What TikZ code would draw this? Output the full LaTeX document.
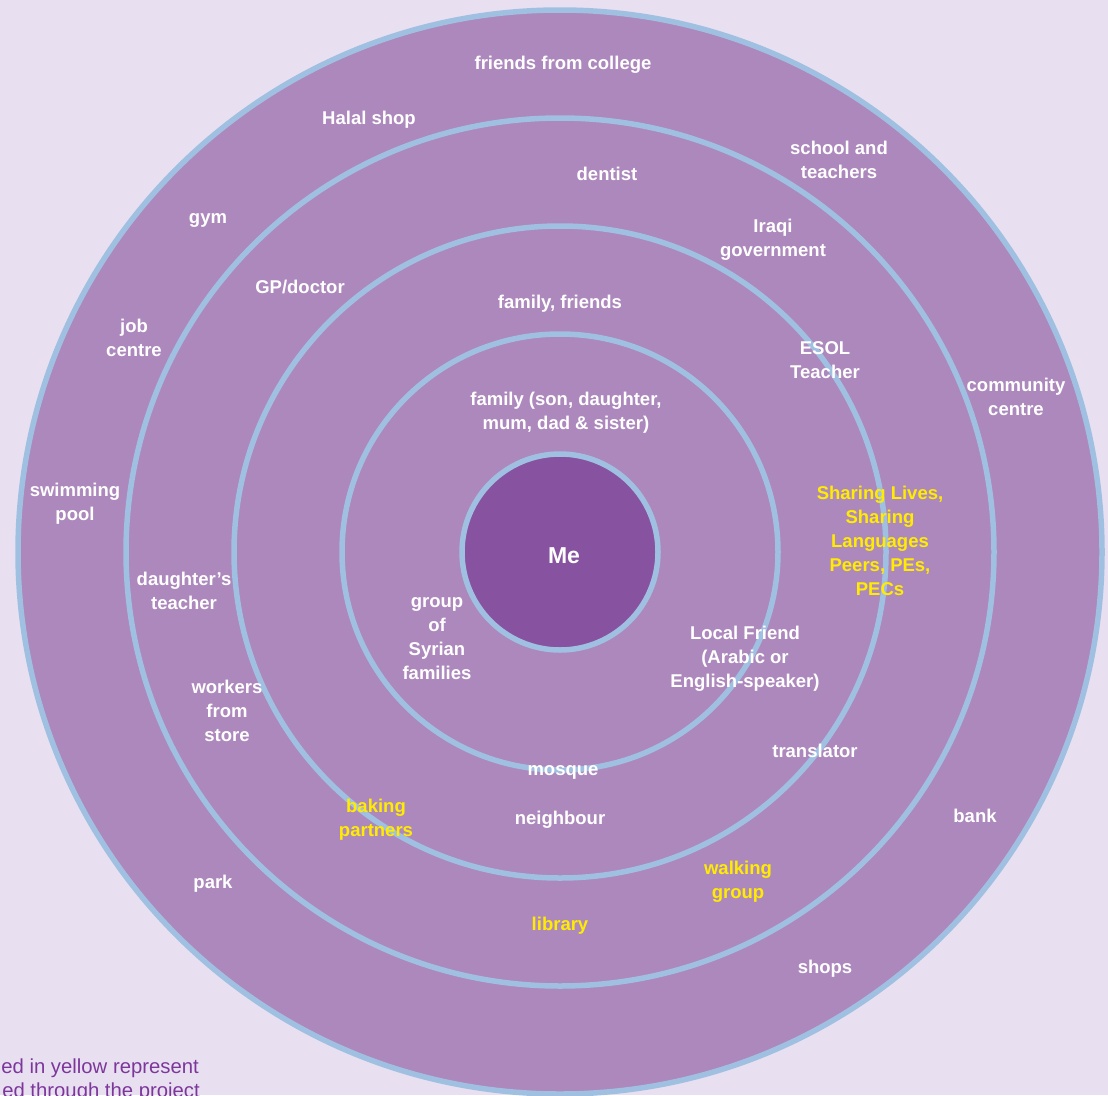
\documentclass[tikz,border=0pt]{standalone}
\usepackage{fontspec}
\setmainfont{Liberation Sans}
\definecolor{bgc}{RGB}{232,224,240}
\definecolor{ringfill}{RGB}{173,136,189}
\definecolor{mefill}{RGB}{135,82,160}
\definecolor{ringline}{RGB}{160,192,226}
\definecolor{hl}{RGB}{255,236,0}
\definecolor{legendc}{RGB}{125,55,155}
\tikzset{
  ring/.style={draw=ringline, line width=5.5pt, fill=ringfill},
  lbl/.style={text=white, font=\fontsize{18.5}{24}\selectfont\bfseries, align=center, inner sep=0pt, yshift=-2.5pt},
  ylbl/.style={lbl, text=hl},
  legend/.style={text=legendc, font=\fontsize{20.3}{24}\selectfont, align=right, inner sep=0pt, anchor=east}
}
\begin{document}
\begin{tikzpicture}[x=1pt,y=-1pt]
\useasboundingbox (0,0) rectangle (1108,1095);
\clip (0,0) rectangle (1108,1095);
\fill[bgc] (0,0) rectangle (1108,1095);
\coordinate (c) at (560,552);
\draw[ring] (c) circle[radius=542];
\draw[ring] (c) circle[radius=434];
\draw[ring] (c) circle[radius=326];
\draw[ring] (c) circle[radius=218];
\draw[ring, fill=mefill] (c) circle[radius=98];
\node[lbl, font=\fontsize{23}{28}\selectfont\bfseries] (me) at (564,553) {Me};
% outer ring
\node[lbl] (college) at (563,62) {friends from college};
\node[lbl] (halal) at (369,117) {Halal shop};
\node[lbl] (school) at (839,157) {school and\\teachers};
\node[lbl] (gym) at (208,218) {gym};
\node[lbl] (job) at (134,335) {job\\centre};
\node[lbl] (community) at (1016,394) {community\\centre};
\node[lbl] (swim) at (75,501) {swimming\\pool};
\node[lbl] (bank) at (975,813) {bank};
\node[lbl] (park) at (213,881) {park};
\node[lbl] (shops) at (825,966) {shops};
% second ring
\node[lbl] (dentist) at (607,171) {dentist};
\node[lbl] (iraqi) at (773,237) {Iraqi\\government};
\node[lbl] (gp) at (300,284) {GP/doctor};
\node[lbl] (dteacher) at (184,588) {daughter’s\\teacher};
\node[lbl] (workers) at (227,708) {workers\\from\\store};
\node[lbl] (translator) at (815,748) {translator};
\node[ylbl] (walking) at (738,879) {walking\\group};
\node[ylbl] (library) at (560,923) {library};
% third ring
\node[lbl] (ff) at (560,301) {family, friends};
\node[lbl] (esol) at (825,358) {ESOL\\Teacher};
\node[ylbl] (sharing) at (880,538) {Sharing Lives,\\Sharing\\Languages\\Peers, PEs,\\PECs};
\node[ylbl] (baking) at (376,817) {baking\\partners};
\node[lbl] (neighbour) at (560,817) {neighbour};
\node[lbl] (mosque) at (563,770) {mosque};
% inner ring
\node[lbl] (family) at (566,410) {family (son, daughter,\\mum, dad \& sister)};
\node[lbl] (syrian) at (437,636) {group\\of\\Syrian\\families};
\node[lbl] (local) at (745,656) {Local Friend\\(Arabic or\\English-speaker)};
% legend (cut off at page edge, as in the reference)
\node[legend] (leg1) at (199,1068) {ed in yellow represent};
\node[legend] (leg2) at (200,1092) {ed through the project};
\end{tikzpicture}
\end{document}
